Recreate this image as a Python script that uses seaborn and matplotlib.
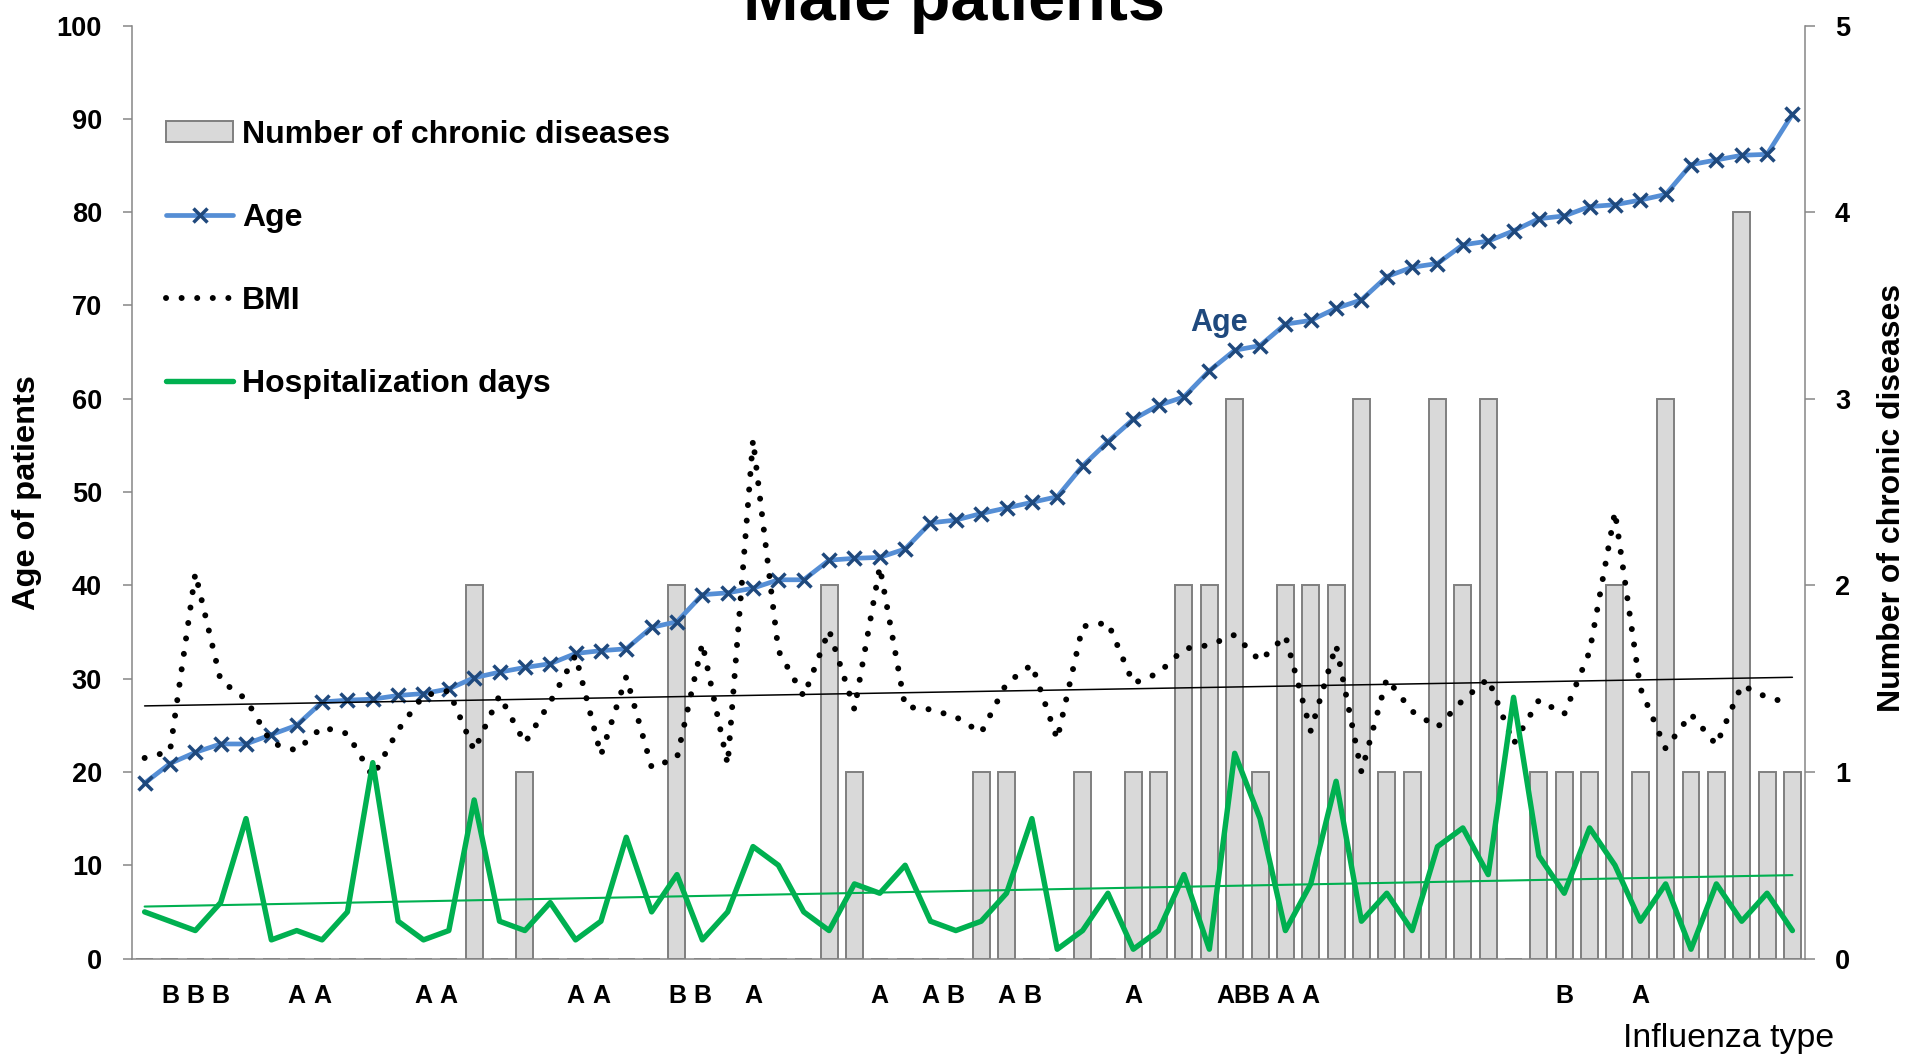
"""
Male patients - age, BMI, hospitalization days and chronic diseases
per patient, with the influenza type written under each patient.
"""
import numpy as np
import matplotlib.pyplot as plt
import matplotlib.patches as mpatches
import seaborn as sns

# --- data, one entry per patient (sorted by age) ---
patient = list(range(66))

age = [18.8, 20.9, 22.1, 23.0, 23.0, 24.0, 25.0, 27.5, 27.7, 27.8,
       28.2, 28.4, 28.9, 30.1, 30.7, 31.2, 31.6, 32.7, 33.0, 33.2,
       35.5, 36.1, 39.0, 39.2, 39.7, 40.6, 40.6, 42.7, 42.9, 43.0,
       43.9, 46.7, 47.0, 47.7, 48.3, 48.9, 49.5, 52.8, 55.4, 57.8,
       59.3, 60.2, 63.0, 65.2, 65.7, 68.0, 68.4, 69.7, 70.6, 73.1,
       74.1, 74.5, 76.5, 76.9, 78.0, 79.3, 79.6, 80.6, 80.8, 81.3,
       81.9, 85.1, 85.6, 86.1, 86.2, 90.5]

bmi = [21.5, 22.2, 41.3, 29.8, 27.8, 23.1, 22.3, 24.8, 24.1, 19.5,
       24.5, 28.2, 28.7, 22.3, 28.2, 23.1, 27.5, 32.5, 21.8, 30.2,
       20.5, 21.5, 33.8, 20.8, 55.6, 33.0, 28.1, 35.2, 26.7, 42.0,
       27.0, 26.7, 25.9, 24.2, 29.5, 31.5, 23.5, 35.6, 36.0, 29.5,
       30.6, 33.2, 33.6, 34.7, 31.9, 34.6, 24.4, 33.6, 20.0, 30.0,
       26.5, 24.8, 27.7, 30.0, 23.0, 27.7, 26.2, 32.9, 47.9, 29.0,
       22.5, 26.2, 22.9, 29.3, 28.0, 27.3]

hosp_days = [5, 4, 3, 6, 15, 2, 3, 2, 5, 21,
             4, 2, 3, 17, 4, 3, 6, 2, 4, 13,
             5, 9, 2, 5, 12, 10, 5, 3, 8, 7,
             10, 4, 3, 4, 7, 15, 1, 3, 7, 1,
             3, 9, 1, 22, 15, 3, 8, 19, 4, 7,
             3, 12, 14, 9, 28, 11, 7, 14, 10, 4,
             8, 1, 8, 4, 7, 3]

chronic = [0, 0, 0, 0, 0, 0, 0, 0, 0, 0,
           0, 0, 0, 2, 0, 1, 0, 0, 0, 0,
           0, 2, 0, 0, 0, 0, 0, 2, 1, 0,
           0, 0, 0, 1, 1, 0, 0, 1, 0, 1,
           1, 2, 2, 3, 1, 2, 2, 2, 3, 1,
           1, 3, 2, 3, 0, 1, 1, 1, 2, 1,
           3, 1, 1, 4, 1, 1]

flu_type = ["", "B", "B", "B", "", "", "A", "A", "", "",
            "", "A", "A", "", "", "", "", "A", "A", "",
            "", "B", "B", "", "A", "", "", "", "", "A",
            "", "A", "B", "", "A", "B", "", "", "", "A",
            "", "", "", "AB", "B", "A", "A", "", "", "",
            "", "", "", "", "", "", "B", "", "", "A",
            "", "", "", "", "", ""]

GRAY = "#868686"
BAR_FILL = "#D9D9D9"
BAR_EDGE = "#7F7F7F"
AGE_BLUE = "#558ED5"
DARK_BLUE = "#1F497D"
GREEN = "#00B050"

sns.set_style("white")
plt.rcParams["font.family"] = ["Liberation Sans", "DejaVu Sans"]
plt.rcParams["text.color"] = "black"
plt.rcParams["xtick.color"] = "black"
plt.rcParams["ytick.color"] = "black"

fig, ax = plt.subplots(figsize=(19.15, 10.58), dpi=100)
fig.subplots_adjust(left=0.0689, right=0.9426, top=0.9758, bottom=0.0940)
ax2 = ax.twinx()

# --- bars on the secondary axis (drawn behind the lines) ---
sns.barplot(x=patient, y=chronic, ax=ax2, color=BAR_FILL, saturation=1,
            width=0.67, edgecolor=BAR_EDGE, linewidth=1.4, errorbar=None)

# --- lines on the primary axis ---
sns.lineplot(x=patient, y=age, ax=ax, color=AGE_BLUE, linewidth=3.4,
             marker="x", markersize=10.5, markeredgewidth=2.5,
             markeredgecolor=DARK_BLUE)
age_line = ax.lines[-1]
sns.lineplot(x=patient, y=bmi, ax=ax, color="black", linewidth=4.3,
             linestyle=(0, (0.01, 2.6)), dash_capstyle="round")
bmi_line = ax.lines[-1]
sns.lineplot(x=patient, y=hosp_days, ax=ax, color=GREEN, linewidth=3.9)
hosp_line = ax.lines[-1]

# linear trends
sns.regplot(x=patient, y=bmi, ax=ax, scatter=False, ci=None,
            color="black", line_kws={"linewidth": 1.1})
sns.regplot(x=patient, y=hosp_days, ax=ax, scatter=False, ci=None,
            color=GREEN, line_kws={"linewidth": 1.5})

ax.set_zorder(ax2.get_zorder() + 1)
ax.patch.set_visible(False)

# --- axes ---
ax.set_xlim(-0.5, len(patient) - 0.5)
ax.set_ylim(0, 100)
ax2.set_ylim(0, 5)
ax.set_yticks(range(0, 101, 10))
ax2.set_yticks(range(0, 6))
ax.set_xticks(patient)
ax.set_xticklabels(flu_type)
ax.set_xticks(np.arange(-0.5, len(patient)), minor=True)
ax.set_xlabel("")
ax.set_ylabel("")
ax2.set_ylabel("")

ax.tick_params(axis="x", which="major", length=0, pad=18, labelsize=18)
ax.tick_params(axis="x", which="minor", length=6, width=1.1, color=GRAY,
               direction="out")
ax.tick_params(axis="y", length=6.5, width=1.1, color=GRAY, direction="out",
               pad=15, labelsize=19.5)
ax2.tick_params(axis="y", length=7, width=1.1, color=GRAY, direction="out",
                pad=14.5, labelsize=19.5)
for t in ax.get_xticklabels() + ax.get_yticklabels() + ax2.get_yticklabels():
    t.set_fontweight("bold")

for side in ["top", "right"]:
    ax.spines[side].set_visible(False)
for side in ["left", "bottom"]:
    ax.spines[side].set_color(GRAY)
    ax.spines[side].set_linewidth(1.1)
for side in ["top", "left", "bottom"]:
    ax2.spines[side].set_visible(False)
ax2.spines["right"].set_color(GRAY)
ax2.spines["right"].set_linewidth(1.1)

# --- legend ---
bar_handle = mpatches.Patch(facecolor=BAR_FILL, edgecolor=BAR_EDGE, linewidth=1.4)
ax.legend([bar_handle, age_line, bmi_line, hosp_line],
          ["Number of chronic diseases", "Age", "BMI", "Hospitalization days"],
          loc="upper left", bbox_to_anchor=(166 / 1915, 1 - 120 / 1058),
          bbox_transform=fig.transFigure, frameon=False,
          prop={"weight": "bold", "size": 23}, handlelength=2.1,
          handleheight=0.63, handletextpad=0.28, labelspacing=1.66,
          borderpad=0, borderaxespad=0)

# --- texts ---
ax.text(42.4, 67.3, "Age", color=DARK_BLUE, fontsize=22, fontweight="bold",
        ha="center", va="baseline")
fig.text(0.498, 1 - 20 / 1058, "Male patients", ha="center", va="baseline",
         fontsize=48, fontweight="bold")
fig.text(27 / 1915, 1 - 493 / 1058, "Age of patients", rotation=90,
         ha="center", va="center", fontsize=23.4, fontweight="bold")
fig.text(1892 / 1915, 1 - 498 / 1058, "Number of chronic diseases", rotation=90,
         ha="center", va="center", fontsize=23, fontweight="bold")
fig.text(1729 / 1915, 1 - 1039 / 1058, "Influenza type", ha="center",
         va="center", fontsize=24.4)

fig.savefig("out.png", dpi=100)
plt.close(fig)
